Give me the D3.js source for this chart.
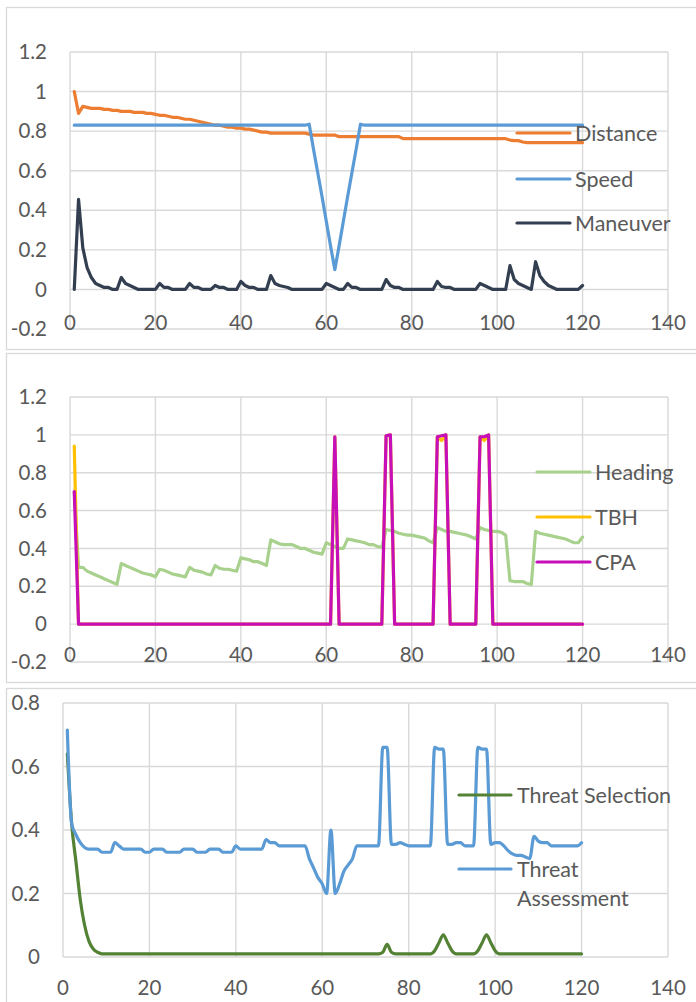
<!DOCTYPE html>
<html><head><meta charset="utf-8">
<script src="https://cdn.jsdelivr.net/npm/d3@7"></script>
<style>html,body{margin:0;padding:0;background:#fff;} svg{display:block;}</style>
</head><body><svg id="c" width="696" height="1002"></svg>
<script>
// ---------- DATA ----------
const steps = d3.range(1, 121);
const xTicks = [0, 20, 40, 60, 80, 100, 120, 140];
const yTicksA = [-0.2, 0, 0.2, 0.4, 0.6, 0.8, 1, 1.2];
const yTicksB = [0, 0.2, 0.4, 0.6, 0.8];

const distance = [
 1.00,0.89,0.925,0.92,0.915,0.915,0.915,0.91,0.91,0.905,
 0.905,0.90,0.90,0.90,0.895,0.895,0.895,0.89,0.89,0.885,
 0.88,0.88,0.875,0.87,0.87,0.865,0.86,0.86,0.855,0.85,
 0.845,0.84,0.835,0.83,0.83,0.825,0.82,0.82,0.815,0.815,
 0.81,0.81,0.805,0.80,0.795,0.795,0.79,0.79,0.79,0.79,
 0.79,0.79,0.79,0.79,0.79,0.785,0.78,0.78,0.78,0.78,
 0.78,0.78,0.772,0.772,0.772,0.772,0.772,0.772,0.772,0.772,
 0.772,0.772,0.772,0.772,0.772,0.772,0.772,0.762,0.762,0.762,
 0.762,0.762,0.762,0.762,0.762,0.762,0.762,0.762,0.762,0.762,
 0.762,0.762,0.762,0.762,0.762,0.762,0.762,0.762,0.762,0.762,
 0.762,0.762,0.755,0.752,0.752,0.745,0.742,0.742,0.742,0.742,
 0.742,0.742,0.742,0.742,0.742,0.742,0.742,0.742,0.742,0.742];
const speed = [
 0.83,0.83,0.83,0.83,0.83,0.83,0.83,0.83,0.83,0.83,
 0.83,0.83,0.83,0.83,0.83,0.83,0.83,0.83,0.83,0.83,
 0.83,0.83,0.83,0.83,0.83,0.83,0.83,0.83,0.83,0.83,
 0.83,0.83,0.83,0.83,0.83,0.83,0.83,0.83,0.83,0.83,
 0.83,0.83,0.83,0.83,0.83,0.83,0.83,0.83,0.83,0.83,
 0.83,0.83,0.83,0.83,0.83,0.835,0.71,0.59,0.47,0.345,
 0.22,0.10,0.22,0.345,0.47,0.59,0.71,0.835,0.83,0.83,
 0.83,0.83,0.83,0.83,0.83,0.83,0.83,0.83,0.83,0.83,
 0.83,0.83,0.83,0.83,0.83,0.83,0.83,0.83,0.83,0.83,
 0.83,0.83,0.83,0.83,0.83,0.83,0.83,0.83,0.83,0.83,
 0.83,0.83,0.83,0.83,0.83,0.83,0.83,0.83,0.83,0.83,
 0.83,0.83,0.83,0.83,0.83,0.83,0.83,0.83,0.83,0.83];
const maneuver = [
 0,0.455,0.21,0.11,0.06,0.03,0.02,0.01,0.01,0,
 0,0.06,0.03,0.02,0.01,0,0,0,0,0,
 0.03,0.01,0.01,0,0,0,0,0.03,0.01,0.01,
 0,0,0,0.02,0.01,0.01,0,0,0,0.04,
 0.02,0.01,0.01,0,0,0,0.07,0.03,0.02,0.015,
 0.01,0,0,0,0,0,0,0,0,0.03,
 0.02,0.01,0,0,0.03,0.01,0.01,0,0,0,
 0,0,0,0.05,0.02,0.01,0.01,0,0,0,
 0,0,0,0,0,0.04,0.015,0.01,0.01,0,
 0,0,0,0,0,0.03,0.02,0.01,0,0,
 0,0,0.12,0.05,0.03,0.02,0.01,0,0.14,0.07,
 0.04,0.02,0.01,0,0,0,0,0,0,0.02];

const heading = [
 0.70,0.30,0.30,0.28,0.27,0.26,0.25,0.24,0.23,0.22,
 0.21,0.32,0.31,0.30,0.29,0.28,0.27,0.265,0.26,0.25,
 0.29,0.285,0.275,0.265,0.26,0.255,0.25,0.30,0.285,0.28,
 0.275,0.265,0.26,0.31,0.295,0.29,0.29,0.285,0.28,0.35,
 0.345,0.34,0.33,0.33,0.32,0.31,0.445,0.435,0.425,0.42,
 0.42,0.42,0.41,0.40,0.40,0.39,0.38,0.375,0.37,0.43,
 0.42,0.41,0.40,0.40,0.45,0.445,0.44,0.435,0.43,0.42,
 0.42,0.41,0.405,0.50,0.495,0.49,0.48,0.475,0.47,0.47,
 0.465,0.46,0.455,0.44,0.43,0.51,0.50,0.49,0.49,0.485,
 0.48,0.475,0.47,0.46,0.45,0.51,0.50,0.495,0.49,0.49,
 0.485,0.47,0.23,0.225,0.225,0.225,0.215,0.21,0.49,0.48,
 0.475,0.47,0.465,0.46,0.455,0.45,0.44,0.43,0.43,0.46];
const tbh = [
 0.94,0,0,0,0,0,0,0,0,0,
 0,0,0,0,0,0,0,0,0,0,
 0,0,0,0,0,0,0,0,0,0,
 0,0,0,0,0,0,0,0,0,0,
 0,0,0,0,0,0,0,0,0,0,
 0,0,0,0,0,0,0,0,0,0,
 0,0.99,0,0,0,0,0,0,0,0,
 0,0,0,0.995,1.0,0,0,0,0,0,
 0,0,0,0,0,0.99,0.97,1.0,0,0,
 0,0,0,0,0,0.99,0.97,1.0,0,0,
 0,0,0,0,0,0,0,0,0,0,
 0,0,0,0,0,0,0,0,0,0];
const cpa = [
 0.70,0,0,0,0,0,0,0,0,0,
 0,0,0,0,0,0,0,0,0,0,
 0,0,0,0,0,0,0,0,0,0,
 0,0,0,0,0,0,0,0,0,0,
 0,0,0,0,0,0,0,0,0,0,
 0,0,0,0,0,0,0,0,0,0,
 0,0.99,0,0,0,0,0,0,0,0,
 0,0,0,0.995,1.0,0,0,0,0,0,
 0,0,0,0,0,0.99,0.995,1.0,0,0,
 0,0,0,0,0,0.99,0.99,1.0,0,0,
 0,0,0,0,0,0,0,0,0,0,
 0,0,0,0,0,0,0,0,0,0];

const threatSelection = [
 0.64,0.42,0.30,0.18,0.10,0.05,0.025,0.015,0.01,0.01,
 0.01,0.01,0.01,0.01,0.01,0.01,0.01,0.01,0.01,0.01,
 0.01,0.01,0.01,0.01,0.01,0.01,0.01,0.01,0.01,0.01,
 0.01,0.01,0.01,0.01,0.01,0.01,0.01,0.01,0.01,0.01,
 0.01,0.01,0.01,0.01,0.01,0.01,0.01,0.01,0.01,0.01,
 0.01,0.01,0.01,0.01,0.01,0.01,0.01,0.01,0.01,0.01,
 0.01,0.01,0.01,0.01,0.01,0.01,0.01,0.01,0.01,0.01,
 0.01,0.01,0.01,0.015,0.04,0.015,0.01,0.01,0.01,0.01,
 0.01,0.01,0.01,0.01,0.01,0.02,0.045,0.07,0.045,0.02,
 0.01,0.01,0.01,0.01,0.01,0.02,0.045,0.07,0.045,0.02,
 0.01,0.01,0.01,0.01,0.01,0.01,0.01,0.01,0.01,0.01,
 0.01,0.01,0.01,0.01,0.01,0.01,0.01,0.01,0.01,0.01];
const threatAssessment = [
 0.715,0.42,0.385,0.36,0.345,0.34,0.34,0.34,0.33,0.33,
 0.33,0.36,0.35,0.34,0.34,0.34,0.34,0.34,0.33,0.33,
 0.34,0.34,0.34,0.33,0.33,0.33,0.33,0.34,0.34,0.34,
 0.33,0.33,0.33,0.34,0.34,0.34,0.33,0.33,0.33,0.35,
 0.34,0.34,0.34,0.34,0.34,0.34,0.37,0.36,0.36,0.35,
 0.35,0.35,0.35,0.35,0.35,0.35,0.31,0.28,0.25,0.23,
 0.20,0.40,0.20,0.23,0.27,0.29,0.31,0.35,0.35,0.35,
 0.35,0.35,0.35,0.66,0.66,0.355,0.355,0.36,0.355,0.35,
 0.35,0.35,0.35,0.35,0.35,0.66,0.655,0.655,0.355,0.355,
 0.36,0.36,0.35,0.35,0.35,0.66,0.655,0.655,0.355,0.36,
 0.36,0.35,0.335,0.325,0.32,0.32,0.315,0.31,0.38,0.365,
 0.36,0.36,0.35,0.35,0.35,0.35,0.35,0.35,0.35,0.36];

// ---------- LAYOUT ----------
const svg = d3.select("#c");
const FONT = "Lato, 'Open Sans', sans-serif";
const TEXT = "#595959";
const GRID = "#d9d9d9";

const panels = [
  { frame: { x: 6, y: 7, h: 342 }, plot: { l: 70, r: 668, t: 52, b: 329 },
    yDomain: [-0.2, 1.2], yTicks: yTicksA, xLabelY: 323, yLabelX: 47, curve: d3.curveLinear,
    series: [
      { name: ["Distance"], values: distance, color: "#ED7D31" },
      { name: ["Speed"], values: speed, color: "#5B9BD5" },
      { name: ["Maneuver"], values: maneuver, color: "#333F50" } ],
    legend: { x1: 517, x2: 570, tx: 575, ys: [133, 179, 223] } },
  { frame: { x: 6, y: 353, h: 329 }, plot: { l: 70, r: 668, t: 397, b: 662 },
    yDomain: [-0.2, 1.2], yTicks: yTicksA, xLabelY: 655, yLabelX: 47, curve: d3.curveLinear,
    series: [
      { name: ["Heading"], values: heading, color: "#A9D18E" },
      { name: ["TBH"], values: tbh, color: "#FFC000" },
      { name: ["CPA"], values: cpa, color: "#C70FB9" } ],
    legend: { x1: 537, x2: 590, tx: 595, ys: [472, 517, 562] } },
  { frame: { x: 6, y: 688, h: 330 }, plot: { l: 63, r: 668, t: 703, b: 957 },
    yDomain: [0, 0.8], yTicks: yTicksB, xLabelY: 988, yLabelX: 40, curve: d3.curveMonotoneX,
    series: [
      { name: ["Threat Selection"], values: threatSelection, color: "#548235" },
      { name: ["Threat", "Assessment"], values: threatAssessment, color: "#5B9BD5" } ],
    legend: { x1: 459, x2: 511, tx: 517, ys: [795, 869] } }
];

const fmt = d => String(+d.toFixed(1));

panels.forEach(p => {
  const g = svg.append("g");
  g.append("rect").attr("x", p.frame.x + 0.5).attr("y", p.frame.y + 0.5)
    .attr("width", 720).attr("height", p.frame.h)
    .attr("fill", "#fff").attr("stroke", GRID).attr("stroke-width", 1.3);

  const x = d3.scaleLinear().domain([0, 140]).range([p.plot.l, p.plot.r]);
  const y = d3.scaleLinear().domain(p.yDomain).range([p.plot.b, p.plot.t]);

  g.append("g").selectAll("line").data(p.yTicks).join("line")
    .attr("x1", p.plot.l).attr("x2", p.plot.r)
    .attr("y1", d => y(d)).attr("y2", d => y(d))
    .attr("stroke", GRID).attr("stroke-width", 1.4);
  g.append("g").selectAll("line").data(xTicks).join("line")
    .attr("x1", d => x(d)).attr("x2", d => x(d))
    .attr("y1", p.plot.t).attr("y2", p.plot.b)
    .attr("stroke", GRID).attr("stroke-width", 1.4);

  g.append("g").selectAll("text").data(p.yTicks).join("text")
    .attr("x", p.yLabelX).attr("y", d => y(d)).attr("dy", "0.35em")
    .attr("text-anchor", "end").attr("font-family", FONT).attr("font-size", 20.5)
    .attr("fill", TEXT).text(fmt);
  g.append("g").selectAll("text").data(xTicks).join("text")
    .attr("x", d => x(d)).attr("y", p.xLabelY).attr("dy", "0.35em")
    .attr("text-anchor", "middle").attr("font-family", FONT).attr("font-size", 20.5)
    .attr("fill", TEXT).text(d => d);

  p.series.forEach(s => {
    const line = d3.line().x((d, i) => x(steps[i])).y(d => y(d)).curve(p.curve);
    g.append("path").datum(s.values).attr("d", line)
      .attr("fill", "none").attr("stroke", s.color).attr("stroke-width", 3.2)
      .attr("stroke-linejoin", "round").attr("stroke-linecap", "round");
  });

  p.series.forEach((s, i) => {
    const ly = p.legend.ys[i];
    g.append("line").attr("x1", p.legend.x1).attr("x2", p.legend.x2)
      .attr("y1", ly).attr("y2", ly).attr("stroke", s.color).attr("stroke-width", 3.2)
      .attr("stroke-linecap", "round");
    const t = g.append("text").attr("font-family", FONT).attr("font-size", 21.5).attr("fill", TEXT);
    s.name.forEach((nm, j) => {
      t.append("tspan").attr("x", p.legend.tx).attr("y", ly + j * 29).attr("dy", "0.35em").text(nm);
    });
  });
});
</script>
</body></html>
